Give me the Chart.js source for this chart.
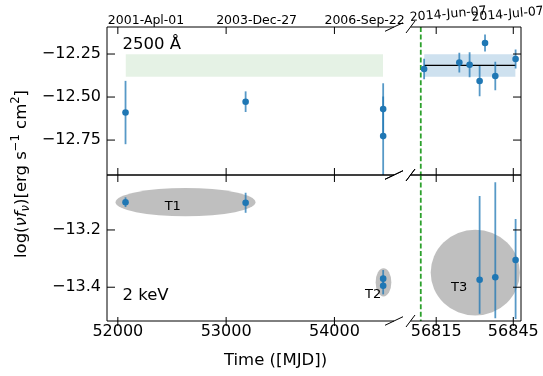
<!DOCTYPE html>
<html>
<head>
<meta charset="utf-8">
<script src="https://cdn.jsdelivr.net/npm/chart.js@4"></script>
<style>
  html, body { margin: 0; padding: 0; background: #fff; }
  #wrap { position: relative; width: 543px; height: 376px; overflow: hidden; }
  #wrap canvas { position: absolute; left: 0; top: 0; }
</style>
</head>
<body>
<div id="wrap">
  <canvas id="uvOld" width="543" height="376"></canvas>
  <canvas id="uvNew" width="543" height="376"></canvas>
  <canvas id="xrOld" width="543" height="376"></canvas>
  <canvas id="xrNew" width="543" height="376"></canvas>
</div>
<script>
// ---------- data ----------
// epochs (MJD): archival 2001-2006 and the 2014 campaign
const oldMJD   = [52071, 53180, 54450, 54450];
const newUvMJD = [56810.3, 56824.0, 56828.0, 56831.9, 56834.0, 56838.0, 56845.9];
const newXrMJD = [56831.9, 56838.0, 56845.9];

// log(nu f_nu) at 2500 A
const uvOld     = [-12.590, -12.527, -12.570, -12.727];
const uvOldErr  = [0.184, 0.060, 0.150, 0.230];
const uvNew     = [-12.337, -12.300, -12.312, -12.407, -12.186, -12.378, -12.279];
const uvNewErr  = [0.060, 0.058, 0.073, 0.088, 0.050, 0.083, 0.055];
const uvNewMean = -12.316;
const uvNewBand = [-12.382, -12.252];

// log(nu f_nu) at 2 keV
const xrOld      = [-13.103, -13.105, -13.370, -13.395];
const xrOldErr   = [0.017, 0.035, 0.030, 0.030];
const xrNew      = [-13.374, -13.365, -13.305];
const xrNewErrHi = [0.293, 0.332, 0.143];
const xrNewErrLo = [0.119, 0.143, 0.206];

// X-ray states T1-T3 (centre MJD, centre flux, extent in days, extent in dex)
const stateNames  = ['T1', 'T2', 'T3'];
const stateMJD    = [52625, 54453, 56830.2];
const stateFlux   = [-13.103, -13.383, -13.349];
const stateDays   = [1292, 145, 34.7];
const stateDex    = [0.099, 0.099, 0.299];
const stateTagMJD = [52507, 54358, 56823.9];
const stateTagFlux = [-13.120, -13.427, -13.402];

const flareMJD = 56809.0;

// axis ranges and ticks
const oldRange = [51900, 54550];
const newRange = [56805, 56848];
const uvRange  = [-12.953, -12.093];
const xrRange  = [-13.518, -13.008];
const oldTicks = [52000, 53000, 54000];
const oldDates = ['2001-Apl-01', '2003-Dec-27', '2006-Sep-22'];
const newTicks = [56815, 56845];
const newDates = ['2014-Jun-07', '2014-Jul-07'];
const uvTicks  = [-12.25, -12.50, -12.75];
const xrTicks  = [-13.2, -13.4];

// ---------- drawing ----------
const BLUE = '#1f77b4';
const FONT = "'DejaVu Sans', sans-serif";

const pts = (xs, ys) => xs.map((x, i) => ({ x, y: ys[i] }));
const fmtY = d => v => (v < 0 ? '\u2212' : '') + Math.abs(v).toFixed(d);

const panels = {
  uvOld: { ticksX: oldTicks, ticksY: uvTicks, ySide: 'left', outer: 'top', brk: 'right',
           err: { xs: oldMJD, ys: uvOld, hi: uvOldErr, lo: uvOldErr },
           dates: oldDates, tag: '2500 \u00c5' },
  uvNew: { ticksX: newTicks, ticksY: uvTicks, ySide: 'right', outer: 'top', brk: 'left', flare: true,
           err: { xs: newUvMJD, ys: uvNew, hi: uvNewErr, lo: uvNewErr },
           dates: newDates },
  xrOld: { ticksX: oldTicks, ticksY: xrTicks, ySide: 'left', outer: 'bottom', brk: 'right',
           err: { xs: oldMJD, ys: xrOld, hi: xrOldErr, lo: xrOldErr },
           regions: [0, 1], tag: '2 keV', titles: true },
  xrNew: { ticksX: newTicks, ticksY: xrTicks, ySide: 'right', outer: 'bottom', brk: 'left', flare: true,
           err: { xs: newXrMJD, ys: xrNew, hi: xrNewErrHi, lo: xrNewErrLo },
           regions: [2] }
};

function seg(ctx, x0, y0, x1, y1) {
  ctx.beginPath(); ctx.moveTo(x0, y0); ctx.lineTo(x1, y1); ctx.stroke();
}
function clipTo(ctx, a) {
  ctx.beginPath(); ctx.rect(a.left, a.top, a.right - a.left, a.bottom - a.top); ctx.clip();
}

function drawYTitle(ctx) {
  const size = 16.5;
  const parts = [
    { t: 'log(' },
    { t: '\u03bdf', it: true },
    { t: '\u03bd', it: true, s: 0.7, dy: 0.22 },
    { t: ')[erg s' },
    { t: '\u22121', s: 0.7, dy: -0.38 },
    { t: ' cm' },
    { t: '2', s: 0.7, dy: -0.38 },
    { t: ']' }
  ];
  const fontOf = p => (p.it ? 'italic ' : '') + (size * (p.s || 1)) + 'px ' + FONT;
  let total = 0;
  parts.forEach(p => { ctx.font = fontOf(p); p.w = ctx.measureText(p.t).width; total += p.w; });
  ctx.save();
  ctx.translate(25.5, 174);
  ctx.rotate(-Math.PI / 2);
  ctx.textAlign = 'left';
  ctx.textBaseline = 'alphabetic';
  ctx.fillStyle = '#000';
  let cx = -total / 2;
  parts.forEach(p => { ctx.font = fontOf(p); ctx.fillText(p.t, cx, (p.dy || 0) * size); cx += p.w; });
  ctx.restore();
}

const frame = {
  id: 'frame',
  beforeDatasetsDraw(chart) {
    const c = panels[chart.canvas.id];
    const { ctx, chartArea: a } = chart;
    const sx = chart.scales.x, sy = chart.scales.y;
    ctx.save();
    clipTo(ctx, a);
    (c.regions || []).forEach(k => {
      const px = sx.getPixelForValue(stateMJD[k]);
      const py = sy.getPixelForValue(stateFlux[k]);
      const rx = Math.abs(sx.getPixelForValue(stateMJD[k] + stateDays[k] / 2) - px);
      const ry = Math.abs(sy.getPixelForValue(stateFlux[k] + stateDex[k] / 2) - py);
      ctx.fillStyle = 'rgba(128,128,128,0.5)';
      ctx.beginPath(); ctx.ellipse(px, py, rx, ry, 0, 0, Math.PI * 2); ctx.fill();
    });
    if (c.flare) {
      const px = sx.getPixelForValue(flareMJD);
      ctx.strokeStyle = '#2ca02c'; ctx.lineWidth = 1.8; ctx.setLineDash([5, 2.6]);
      seg(ctx, px, a.top, px, a.bottom);
    }
    ctx.restore();
  },
  beforeDatasetDraw(chart, args) {
    if (args.index !== 0) return;
    const e = panels[chart.canvas.id].err;
    const { ctx, chartArea: a } = chart;
    const sx = chart.scales.x, sy = chart.scales.y;
    ctx.save();
    clipTo(ctx, a);
    ctx.strokeStyle = 'rgba(31,119,180,0.75)';
    ctx.lineWidth = 1.8;
    e.xs.forEach((m, i) => {
      const px = sx.getPixelForValue(m);
      seg(ctx, px, sy.getPixelForValue(e.ys[i] + e.hi[i]), px, sy.getPixelForValue(e.ys[i] - e.lo[i]));
    });
    ctx.restore();
  },
  afterDraw(chart) {
    const c = panels[chart.canvas.id];
    const { ctx, chartArea: a } = chart;
    const sx = chart.scales.x, sy = chart.scales.y;
    ctx.save();
    ctx.strokeStyle = '#000';
    ctx.fillStyle = '#000';
    ctx.lineWidth = 1;
    // spines
    seg(ctx, a.left, a.top, a.right, a.top);
    seg(ctx, a.left, a.bottom, a.right, a.bottom);
    const side = c.ySide === 'left' ? a.left : a.right;
    seg(ctx, side, a.top, side, a.bottom);
    // tick marks
    const dir = c.ySide === 'left' ? 1 : -1;
    c.ticksY.forEach(v => { const py = sy.getPixelForValue(v); seg(ctx, side, py, side + dir * 8, py); });
    c.ticksX.forEach(v => {
      const px = sx.getPixelForValue(v);
      seg(ctx, px, a.top, px, a.top + 7);
      if (c.outer === 'bottom') seg(ctx, px, a.bottom - 4, px, a.bottom + 5);
      else seg(ctx, px, a.bottom, px, a.bottom - 7);
    });
    // axis-break marks
    [a.top, a.bottom].forEach(y => {
      if (c.brk === 'right') seg(ctx, a.right - 9, y + 4.3, a.right + 9, y - 4.3);
      else seg(ctx, a.left - 4.5, y + 6, a.left + 4.5, y - 6);
    });
    // calendar dates along the top
    if (c.dates) {
      ctx.font = '12.5px ' + FONT;
      ctx.textAlign = 'left';
      ctx.textBaseline = 'alphabetic';
      if (c.brk === 'right') {
        c.ticksX.forEach((v, i) => ctx.fillText(c.dates[i], sx.getPixelForValue(v) - 10, a.top - 3));
      } else {
        const shift = [-26, -41.5];
        c.ticksX.forEach((v, i) => {
          ctx.save();
          ctx.translate(sx.getPixelForValue(v) + shift[i], a.top - 6);
          ctx.rotate(-5 * Math.PI / 180);
          ctx.fillText(c.dates[i], 0, 0);
          ctx.restore();
        });
      }
    }
    // band tag
    if (c.tag) {
      ctx.font = '16.5px ' + FONT;
      ctx.textAlign = 'left';
      ctx.textBaseline = 'alphabetic';
      ctx.fillText(c.tag, a.left + 15.5, c.outer === 'top' ? a.top + 22.3 : a.bottom - 21);
    }
    // state labels
    ctx.font = '13px ' + FONT;
    ctx.textAlign = 'center';
    ctx.textBaseline = 'middle';
    (c.regions || []).forEach(k => {
      ctx.fillText(stateNames[k], sx.getPixelForValue(stateTagMJD[k]), sy.getPixelForValue(stateTagFlux[k]));
    });
    // figure titles
    if (c.titles) {
      ctx.font = '16.5px ' + FONT;
      ctx.textAlign = 'center';
      ctx.textBaseline = 'alphabetic';
      ctx.fillText('Time ([MJD])', 275.5, 365);
      drawYTitle(ctx);
    }
    ctx.restore();
  }
};

function makePanel(id, o) {
  const tickFont = { family: FONT, size: 16 };
  return new Chart(document.getElementById(id), {
    type: 'scatter',
    data: { datasets: o.datasets },
    options: {
      responsive: false,
      animation: false,
      devicePixelRatio: 1,
      events: [],
      layout: { padding: o.pad, autoPadding: false },
      plugins: { legend: { display: false }, tooltip: { enabled: false } },
      scales: {
        x: {
          type: 'linear', min: o.xr[0], max: o.xr[1], display: o.showX,
          grid: { display: false, drawTicks: false }, border: { display: false },
          afterBuildTicks: s => { s.ticks = o.xt.map(v => ({ value: v })); },
          afterFit: s => { s.height = o.showX ? 55 : 0; },
          ticks: { color: '#000', font: tickFont, padding: 1.5, autoSkip: false,
                   maxRotation: 0, minRotation: 0, callback: v => String(v) }
        },
        y: {
          type: 'linear', min: o.yr[0], max: o.yr[1], display: o.showY,
          grid: { display: false, drawTicks: false }, border: { display: false },
          afterBuildTicks: s => { s.ticks = o.yt.map(v => ({ value: v })); },
          afterFit: s => { s.width = o.showY ? 107 : 0; },
          ticks: { color: '#000', font: tickFont, padding: 6, autoSkip: false, callback: o.yFmt }
        }
      }
    },
    plugins: [frame]
  });
}

const pointStyle = { pointRadius: 3.3, pointHoverRadius: 3.3, backgroundColor: BLUE, borderWidth: 0 };
const edge = (x0, x1, y) => [{ x: x0, y }, { x: x1, y }];
const bandSet = (x0, x1, color) => [
  { type: 'line', data: edge(x0, x1, uvNewBand[1]), borderWidth: 0, pointRadius: 0, fill: false },
  { type: 'line', data: edge(x0, x1, uvNewBand[0]), borderWidth: 0, pointRadius: 0, fill: '-1', backgroundColor: color }
];

makePanel('uvOld', {
  xr: oldRange, yr: uvRange, xt: oldTicks, yt: uvTicks, showX: false, showY: true, yFmt: fmtY(2),
  pad: { left: 0, right: 149, top: 27, bottom: 201 },
  datasets: [
    { data: pts(oldMJD, uvOld), ...pointStyle },
    ...bandSet(oldMJD[0], oldMJD[oldMJD.length - 1], 'rgba(0,128,0,0.1)')
  ]
});

makePanel('uvNew', {
  xr: newRange, yr: uvRange, xt: newTicks, yt: uvTicks, showX: false, showY: false, yFmt: fmtY(2),
  pad: { left: 410.5, right: 22, top: 27, bottom: 201 },
  datasets: [
    { data: pts(newUvMJD, uvNew), ...pointStyle },
    { type: 'line', data: edge(newUvMJD[0], newUvMJD[newUvMJD.length - 1], uvNewMean),
      borderColor: '#000', borderWidth: 1.4, pointRadius: 0, fill: false },
    ...bandSet(newUvMJD[0], newUvMJD[newUvMJD.length - 1], 'rgba(31,119,180,0.22)')
  ]
});

makePanel('xrOld', {
  xr: oldRange, yr: xrRange, xt: oldTicks, yt: xrTicks, showX: true, showY: true, yFmt: fmtY(1),
  pad: { left: 0, right: 149, top: 175, bottom: 0 },
  datasets: [ { data: pts(oldMJD, xrOld), ...pointStyle } ]
});

makePanel('xrNew', {
  xr: newRange, yr: xrRange, xt: newTicks, yt: xrTicks, showX: true, showY: false, yFmt: fmtY(1),
  pad: { left: 410.5, right: 22, top: 175, bottom: 0 },
  datasets: [ { data: pts(newXrMJD, xrNew), ...pointStyle } ]
});
</script>
</body>
</html>
